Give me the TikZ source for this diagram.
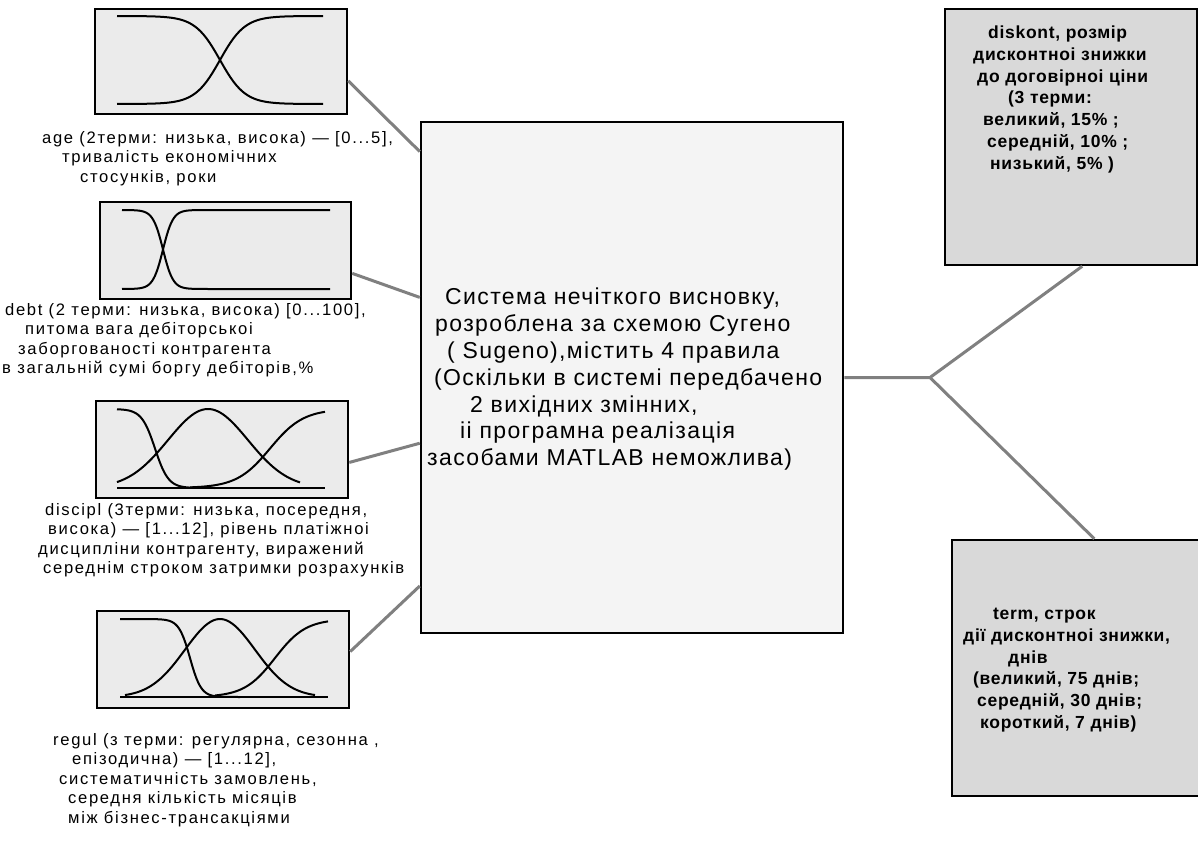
\documentclass[tikz,border=0pt]{standalone}
\usepackage{fontspec}
\setmainfont{Liberation Sans}
\newfontfamily\lblfont[LetterSpace=10]{Liberation Sans}
\newfontfamily\sysfont[LetterSpace=6]{Liberation Sans}
\newfontfamily\outfont[LetterSpace=4]{Liberation Sans}
\usepackage{tikz}
\usetikzlibrary{positioning,calc}

\definecolor{mfgray}{HTML}{EBEBEB}
\definecolor{sysgray}{HTML}{F4F4F4}
\definecolor{outgray}{HTML}{D9D9D9}
\definecolor{linkgray}{HTML}{808080}

\tikzset{
  mfbox/.style={draw, line width=2.5pt, fill=mfgray, minimum width=252pt, minimum height=97pt, inner sep=0pt},
  sysbox/.style={draw, line width=2.5pt, fill=sysgray, minimum width=422pt, minimum height=511pt, inner sep=0pt},
  outbox/.style={draw, line width=2.5pt, fill=outgray, minimum width=252pt, minimum height=256pt, inner sep=0pt},
  mf/.style={line width=2pt, line join=round},
  link/.style={linkgray, line width=3pt, line join=round},
  lbl/.style={anchor=north west, align=left, inner sep=0pt, font=\lblfont\fontsize{16.6pt}{19.5pt}\selectfont},
  systxt/.style={anchor=north west, align=left, inner sep=0pt, font=\sysfont\fontsize{23pt}{26.8pt}\selectfont},
  outtxt/.style={anchor=north west, align=left, inner sep=0pt, font=\outfont\bfseries\fontsize{17.5pt}{21.7pt}\selectfont}
}

\begin{document}
\begin{tikzpicture}[x=1pt, y=-1pt]
    \fill[white] (0,0) rectangle (1198,841);
    \useasboundingbox (0,0) rectangle (1198,841);

    % Input variables
    \node[mfbox, minimum height=105pt] (age) at (221,61.5) {};
    \node[mfbox, minimum width=251pt] (debt) at (225.5,250.5) {};
    \node[mfbox] (discipl) at (222,449.5) {};
    \node[mfbox] (regul) at (223,659.5) {};

    % Membership functions
    \draw[mf] plot[domain=117:323, samples=70] (\x,{16+88/(1+exp(-0.08*(\x-220)))});
    \draw[mf] plot[domain=117:323, samples=70] (\x,{104-88/(1+exp(-0.08*(\x-220)))});

    \draw[mf] plot[domain=122:210, samples=60] (\x,{210+79/(1+exp(-0.2*(\x-163)))}) -- (330,289);
    \draw[mf] plot[domain=122:210, samples=60] (\x,{289-79/(1+exp(-0.2*(\x-163)))}) -- (330,210);

    \draw[mf] (117,488) -- (325,488);
    \draw[mf] plot[domain=117:215, samples=60] (\x,{409+79/(1+exp(-0.15*(\x-155)))});
    \draw[mf] plot[domain=117:300, samples=70] (\x,{488-79*exp(-(\x-208)^2/3200)});
    \draw[mf] plot[domain=190:325, samples=60] (\x,{488-79/(1+exp(-0.06*(\x-270)))});

    \draw[mf] (120,697) -- (328,697);
    \draw[mf] (120,619) -- plot[domain=140:240, samples=60] (\x,{619+78/(1+exp(-0.18*(\x-190)))});
    \draw[mf] plot[domain=125:315, samples=70] (\x,{697-78*exp(-(\x-220)^2/2450)});
    \draw[mf] plot[domain=215:328, samples=60] (\x,{697-78/(1+exp(-0.065*(\x-275)))});

    % Labels
    \node[lbl] (agelbl) at (42,131) {age (2терми: низька, висока) — [0...5],\\
      \hspace*{20pt}тривалість економічних\\
      \hspace*{38pt}стосунків, роки};
    \node[lbl] (debtlbl) at (2,303) {\hspace*{3pt}debt (2 терми: низька, висока) [0...100],\\
      \hspace*{23pt}питома вага дебіторськоі\\
      \hspace*{16pt}заборгованості контрагента\\
      в загальній сумі боргу дебіторів,\%};
    \node[lbl] (disciplbl) at (38,503) {\hspace*{7pt}discipl (3терми: низька, посередня,\\
      \hspace*{10pt}висока) — [1...12], рівень платіжноі\\
      дисципліни контрагенту, виражений\\
      \hspace*{5pt}середнім строком затримки розрахунків};
    \node[lbl] (regullbl) at (53,733) {regul (з терми: регулярна, сезонна ,\\
      \hspace*{19pt}епізодична) — [1...12],\\
      \hspace*{6pt}систематичність замовлень,\\
      \hspace*{15pt}середня кількість місяців\\
      \hspace*{15pt}між бізнес-трансакціями};

    % Inference system
    \node[sysbox] (sys) at (632,377.5) {};
    \node[systxt] (systext) at (427,288) {\hspace*{18pt}Система нечіткого висновку,\\
      \hspace*{8pt}розроблена за схемою Сугено\\
      \hspace*{20pt}( Sugeno),містить 4 правила\\
      \hspace*{7pt}(Оскільки в системі передбачено\\
      \hspace*{43pt}2 вихідних змінних,\\
      \hspace*{33pt}ii програмна реалізація\\
      засобами MATLAB неможлива)};

    % Outputs
    \node[outbox] (out1) at (1071,137) {};
    \node[outtxt] (out1text) at (973,26) {\hspace*{15pt}diskont, розмір\\
      дисконтноі знижки\\
      \hspace*{4pt}до договірноі ціни\\
      \hspace*{35pt}(3 терми:\\
      \hspace*{10pt}великий, 15\% ;\\
      \hspace*{14pt}середній, 10\% ;\\
      \hspace*{17pt}низький, 5\% )};
    \node[outbox] (out2) at (1078,668) {};
    \node[outtxt] (out2text) at (963,608) {\hspace*{30pt}term, строк\\
      дії дисконтноі знижки,\\
      \hspace*{45pt}днів\\
      \hspace*{10pt}(великий, 75 днів;\\
      \hspace*{14pt}середній, 30 днів;\\
      \hspace*{17pt}короткий, 7 днів)};

    % Connectors
    \draw[link] ($(age.north east)!0.68!(age.south east)$) -- ($(sys.north west)!0.06!(sys.south west)$);
    \draw[link] ($(debt.north east)!0.73!(debt.south east)$) -- ($(sys.north west)!0.344!(sys.south west)$);
    \draw[link] ($(discipl.north east)!0.63!(discipl.south east)$) -- ($(sys.north west)!0.628!(sys.south west)$);
    \draw[link] ($(regul.north east)!0.42!(regul.south east)$) -- ($(sys.north west)!0.906!(sys.south west)$);
    \coordinate (fork) at (930,377.5);
    \draw[link] (sys.east) -- (fork) -- ($(out1.south west)!0.544!(out1.south east)$);
    \draw[link] (fork) -- ($(out2.north west)!0.564!(out2.north east)$);
\end{tikzpicture}
\end{document}
